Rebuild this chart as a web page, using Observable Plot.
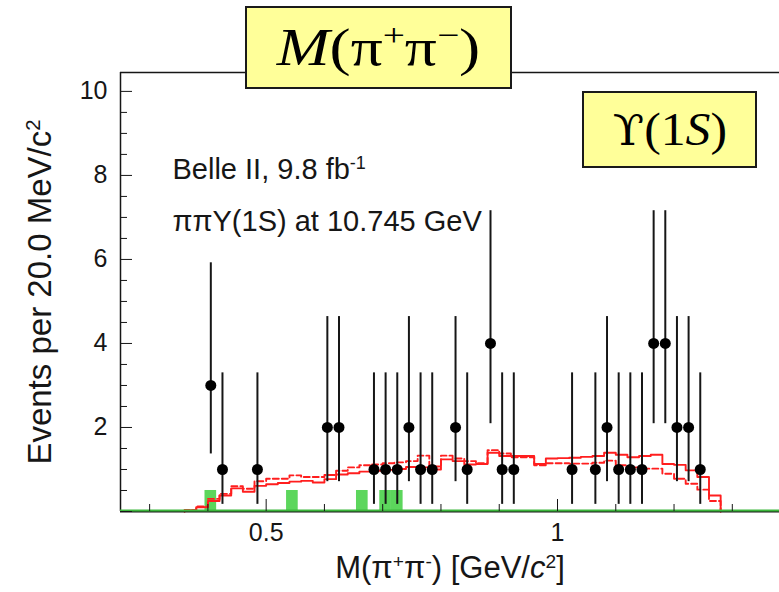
<!DOCTYPE html>
<html><head><meta charset="utf-8">
<script src="https://cdn.jsdelivr.net/npm/d3@7"></script>
<script src="https://cdn.jsdelivr.net/npm/@observablehq/plot@0.6"></script>
<style>
body{margin:0;background:#fff;}
#wrap{position:relative;width:779px;height:592px;overflow:hidden;}
.box{position:absolute;background:#ffff99;border:2px solid #1a1a1a;box-sizing:border-box;display:flex;align-items:center;justify-content:center;font-family:"Liberation Serif","DejaVu Serif",serif;color:#000;line-height:1;}
.box sup{font-size:0.62em;vertical-align:0.6em;line-height:0;}
</style></head><body>
<div id="wrap">
<div id="chart"></div>
<div class="box" style="left:245px;top:6px;width:267px;height:83px;font-size:52px;"><span style="display:inline-block;transform:scaleX(1.22);"><i>M</i>(π<sup>+</sup>π<sup>−</sup>)</span></div>
<div class="box" style="left:582px;top:91px;width:175px;height:77px;font-size:46px;"><span style="display:inline-block;transform:scaleX(1.08);"><span style="font-family:'DejaVu Serif',serif;font-size:0.92em">ϒ</span>(1<i>S</i>)</span></div>
</div>
<script>
// ---- data ----
const binCenter = [0.405,0.425,0.485,0.605,0.625,0.685,0.705,0.725,0.745,0.765,0.785,0.825,0.845,0.885,0.905,0.925,1.025,1.065,1.085,1.105,1.125,1.145,1.165,1.185,1.205,1.225,1.245];
const events    = [3,1,1,2,2,1,1,1,2,1,1,2,1,4,1,1,1,1,2,1,1,1,4,4,2,2,1];
const errLow    = [1.37,0.17,0.17,0.71,0.71,0.17,0.17,0.17,0.71,0.17,0.17,0.71,0.17,2.09,0.17,0.17,0.17,0.17,0.71,0.17,0.17,0.17,2.09,2.09,0.71,0.71,0.17];
const errHigh   = [5.92,3.30,3.30,4.64,4.64,3.30,3.30,3.30,4.64,3.30,3.30,4.64,3.30,7.16,3.30,3.30,3.30,3.30,4.64,3.30,3.30,3.30,7.16,7.16,4.64,4.64,3.30];

const mcLeft = [0.36,0.38,0.40,0.42,0.44,0.46,0.48,0.50,0.52,0.54,0.56,0.58,0.60,0.62,0.64,0.66,0.68,0.70,0.72,0.74,0.76,0.78,0.80,0.82,0.84,0.86,0.88,0.90,0.92,0.94,0.96,0.98,1.00,1.02,1.04,1.06,1.08,1.10,1.12,1.14,1.16,1.18,1.20,1.22,1.24,1.26];
const mcRightEdge = 1.28;
const mcSolid  = [0.03,0.10,0.25,0.38,0.55,0.47,0.61,0.65,0.68,0.71,0.73,0.69,0.77,0.88,0.91,0.95,0.97,0.99,1.01,1.06,1.05,1.00,1.24,1.20,1.12,1.13,1.40,1.32,1.32,1.32,1.13,1.26,1.27,1.28,1.30,1.32,1.40,1.35,1.29,1.32,1.35,1.13,1.11,0.98,0.82,0.38];
const mcDashed = [0.03,0.12,0.30,0.42,0.60,0.54,0.72,0.78,0.78,0.86,0.82,0.82,0.87,0.97,1.05,1.10,1.12,1.15,1.17,1.20,1.33,1.07,1.33,1.26,1.20,1.15,1.46,1.38,1.29,1.29,1.10,1.15,1.15,1.14,1.14,1.16,1.21,1.10,1.05,1.02,1.02,0.90,0.78,0.66,0.52,0.25];

const bkgX1 = [0.395,0.535,0.655,0.695,0.715];
const bkgX2 = [0.415,0.555,0.675,0.715,0.735];
const bkgH  = [0.5,0.5,0.5,0.5,0.5];

const xMajorTicks = [0.5,1.0];
const xMinorTicks = [0.3,0.4,0.6,0.7,0.8,0.9,1.1,1.2,1.3];
const xTickLabels = ["0.5","1"];
const yMajorTicks = [0,2,4,6,8,10];
const yMinorTicks = [0.5,1,1.5,2.5,3,3.5,4.5,5,5.5,6.5,7,7.5,8.5,9,9.5];
const yLabelTicks = [2,4,6,8,10];
const yTickLabels = ["2","4","6","8","10"];

const xDomain = [0.25,1.381];
const yDomain = [0,10.45];

// ---- build ----
const pts = binCenter.map((x,i)=>({x, y:events[i], lo:errLow[i], hi:errHigh[i]}));
function steps(vals){
  const a=[{x:mcLeft[0],y:0}];
  mcLeft.forEach((x,i)=>a.push({x,y:vals[i]}));
  a.push({x:mcRightEdge,y:0});
  return a;
}
const bkg = bkgX1.map((x1,i)=>({x1, x2:bkgX2[i], h:bkgH[i]}));
const green = "#5cd65c", red = "#ff1e1e", ink = "#161616";
const font = '"Liberation Sans", Arial, Helvetica, sans-serif';

const chart = Plot.plot({
  width: 779, height: 592,
  marginLeft: 120, marginRight: 0, marginTop: 72, marginBottom: 81,
  style: {fontFamily: font, background: "white", overflow: "visible"},
  x: {domain: xDomain, label: null},
  y: {domain: yDomain, label: null},
  marks: [
    Plot.rectY(bkg, {x1:"x1", x2:"x2", y:"h", fill: green}),
    Plot.line(steps(mcDashed), {x:"x", y:"y", curve:"step-after", stroke: red, strokeWidth: 1.9, strokeDasharray: "6,3"}),
    Plot.line(steps(mcSolid), {x:"x", y:"y", curve:"step-after", stroke: red, strokeWidth: 1.9}),
    Plot.ruleX(pts, {x:"x", y1:"lo", y2:"hi", stroke: ink, strokeWidth: 2}),
    Plot.dot(pts, {x:"x", y:"y", r: 5.5, fill: "#000", stroke: null}),
    Plot.ruleX([xDomain[0]], {stroke: ink, strokeWidth: 1.5}),
    Plot.ruleY([yDomain[1]], {stroke: ink, strokeWidth: 1.5}),
    Plot.ruleY([0], {stroke: ink, strokeWidth: 2}),
    Plot.ruleY([0], {stroke: "#3cb83c", strokeWidth: 2.2, dy: -1}),
    Plot.axisX(xMajorTicks, {tickSize: -12, tickFormat: () => "", stroke: ink, label: null}),
    Plot.axisX(xMinorTicks, {tickSize: -7, tickFormat: () => "", stroke: ink, label: null}),
    Plot.axisX(xMajorTicks, {tickSize: 0, tickPadding: 12, tickFormat: (d,i) => xTickLabels[i], fontSize: 25, fill: ink, label: null}),
    Plot.axisY(yMajorTicks, {tickSize: -12, tickFormat: () => "", stroke: ink, label: null}),
    Plot.axisY(yMinorTicks, {tickSize: -7, tickFormat: () => "", stroke: ink, label: null}),
    Plot.axisY(yLabelTicks, {tickSize: 0, tickPadding: 13, tickFormat: (d,i) => yTickLabels[i], fontSize: 25, fill: ink, label: null}),
    Plot.text(["Events per 20.0 MeV/c2"], {frameAnchor: "left", rotate: -90, dx: -80, textAnchor: "middle", fontSize: 33, fill: ink}),
    Plot.text(["M(π+π-) [GeV/c2]"], {frameAnchor: "bottom", dy: 66, fontSize: 31, fill: ink}),
    Plot.text(["Belle II, 9.8 fb-1"], {frameAnchor: "top-left", dx: 52, dy: 86, textAnchor: "start", fontSize: 29, fill: ink}),
    Plot.text(["ππΥ(1S) at 10.745 GeV"], {frameAnchor: "top-left", dx: 52, dy: 138, textAnchor: "start", fontSize: 29, fill: ink})
  ]
});
document.getElementById("chart").appendChild(chart);

// rich text (superscripts / italics)
const NS = "http://www.w3.org/2000/svg";
function rich(plain, parts){
  chart.querySelectorAll("text").forEach(t=>{
    if (t.textContent === plain){
      t.textContent = "";
      for (const p of parts){
        const s = document.createElementNS(NS, "tspan");
        s.textContent = p.t;
        if (p.sup) { s.setAttribute("baseline-shift","super"); s.setAttribute("style","font-size:0.62em"); }
        if (p.it) s.setAttribute("font-style","italic");
        t.appendChild(s);
      }
    }
  });
}
rich("Events per 20.0 MeV/c2", [{t:"Events per 20.0 MeV/c"},{t:"2",sup:true}]);
rich("M(π+π-) [GeV/c2]", [{t:"M(π"},{t:"+",sup:true},{t:"π"},{t:"-",sup:true},{t:") [GeV/"},{t:"c",it:true},{t:"2",sup:true},{t:"]"}]);
rich("Belle II, 9.8 fb-1", [{t:"Belle II, 9.8 fb"},{t:"-1",sup:true}]);
</script>
</body></html>
